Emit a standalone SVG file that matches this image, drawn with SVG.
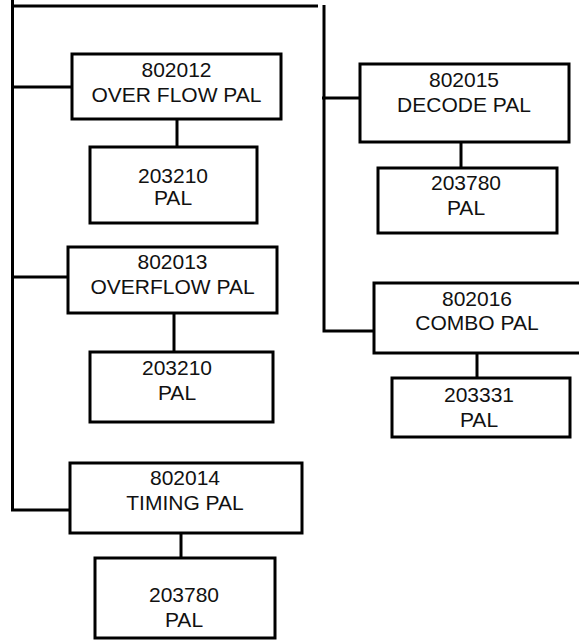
<svg xmlns="http://www.w3.org/2000/svg" width="579" height="641" viewBox="0 0 579 641">
<style>
.box{fill:#fff;stroke:#000;stroke-width:3}
.ln{fill:none;stroke:#000;stroke-width:3}
text{font-family:"Liberation Sans",Arial,sans-serif;font-size:21px;fill:#111;text-anchor:middle}
</style>
<rect width="579" height="641" fill="#fff"/>
<g id="connectors">
<path class="ln" d="M12.5 6 H318"/>
<path class="ln" d="M12.5 0 V510 H70"/>
<path class="ln" d="M11 87 H72"/>
<path class="ln" d="M11 277 H68"/>
<path class="ln" d="M324 5 V331 H374"/>
<path class="ln" d="M322 98 H360"/>
<path class="ln" d="M177 119 V147"/>
<path class="ln" d="M174 313 V352"/>
<path class="ln" d="M181 533 V558"/>
<path class="ln" d="M461 142 V168"/>
<path class="ln" d="M477 353 V378"/>
</g>
<g id="n802012"><rect class="box" x="72" y="54" width="209" height="65"/><text x="176.5" y="77">802012</text><text x="176.5" y="102">OVER FLOW PAL</text></g>
<g id="n203210a"><rect class="box" x="90" y="147" width="167" height="76"/><text x="173" y="183">203210</text><text x="173" y="205">PAL</text></g>
<g id="n802013"><rect class="box" x="68" y="247" width="209" height="66"/><text x="172.5" y="269">802013</text><text x="172.5" y="293.5">OVERFLOW PAL</text></g>
<g id="n203210b"><rect class="box" x="90" y="352" width="183" height="70"/><text x="177" y="375">203210</text><text x="177" y="400">PAL</text></g>
<g id="n802014"><rect class="box" x="70" y="463" width="232" height="70"/><text x="185" y="485">802014</text><text x="185" y="510">TIMING PAL</text></g>
<g id="n203780a"><rect class="box" x="95" y="558" width="180" height="80"/><text x="184" y="602">203780</text><text x="184" y="627">PAL</text></g>
<g id="n802015"><rect class="box" x="360" y="64" width="209" height="78"/><text x="464" y="87">802015</text><text x="464" y="112">DECODE PAL</text></g>
<g id="n203780b"><rect class="box" x="378" y="168" width="179" height="65"/><text x="466" y="189.5">203780</text><text x="466" y="215">PAL</text></g>
<g id="n802016"><rect class="box" x="374" y="283" width="210" height="70"/><text x="477" y="306">802016</text><text x="477" y="330">COMBO PAL</text></g>
<g id="n203331"><rect class="box" x="392" y="378" width="178" height="59"/><text x="479" y="402">203331</text><text x="479" y="427">PAL</text></g>
</svg>
